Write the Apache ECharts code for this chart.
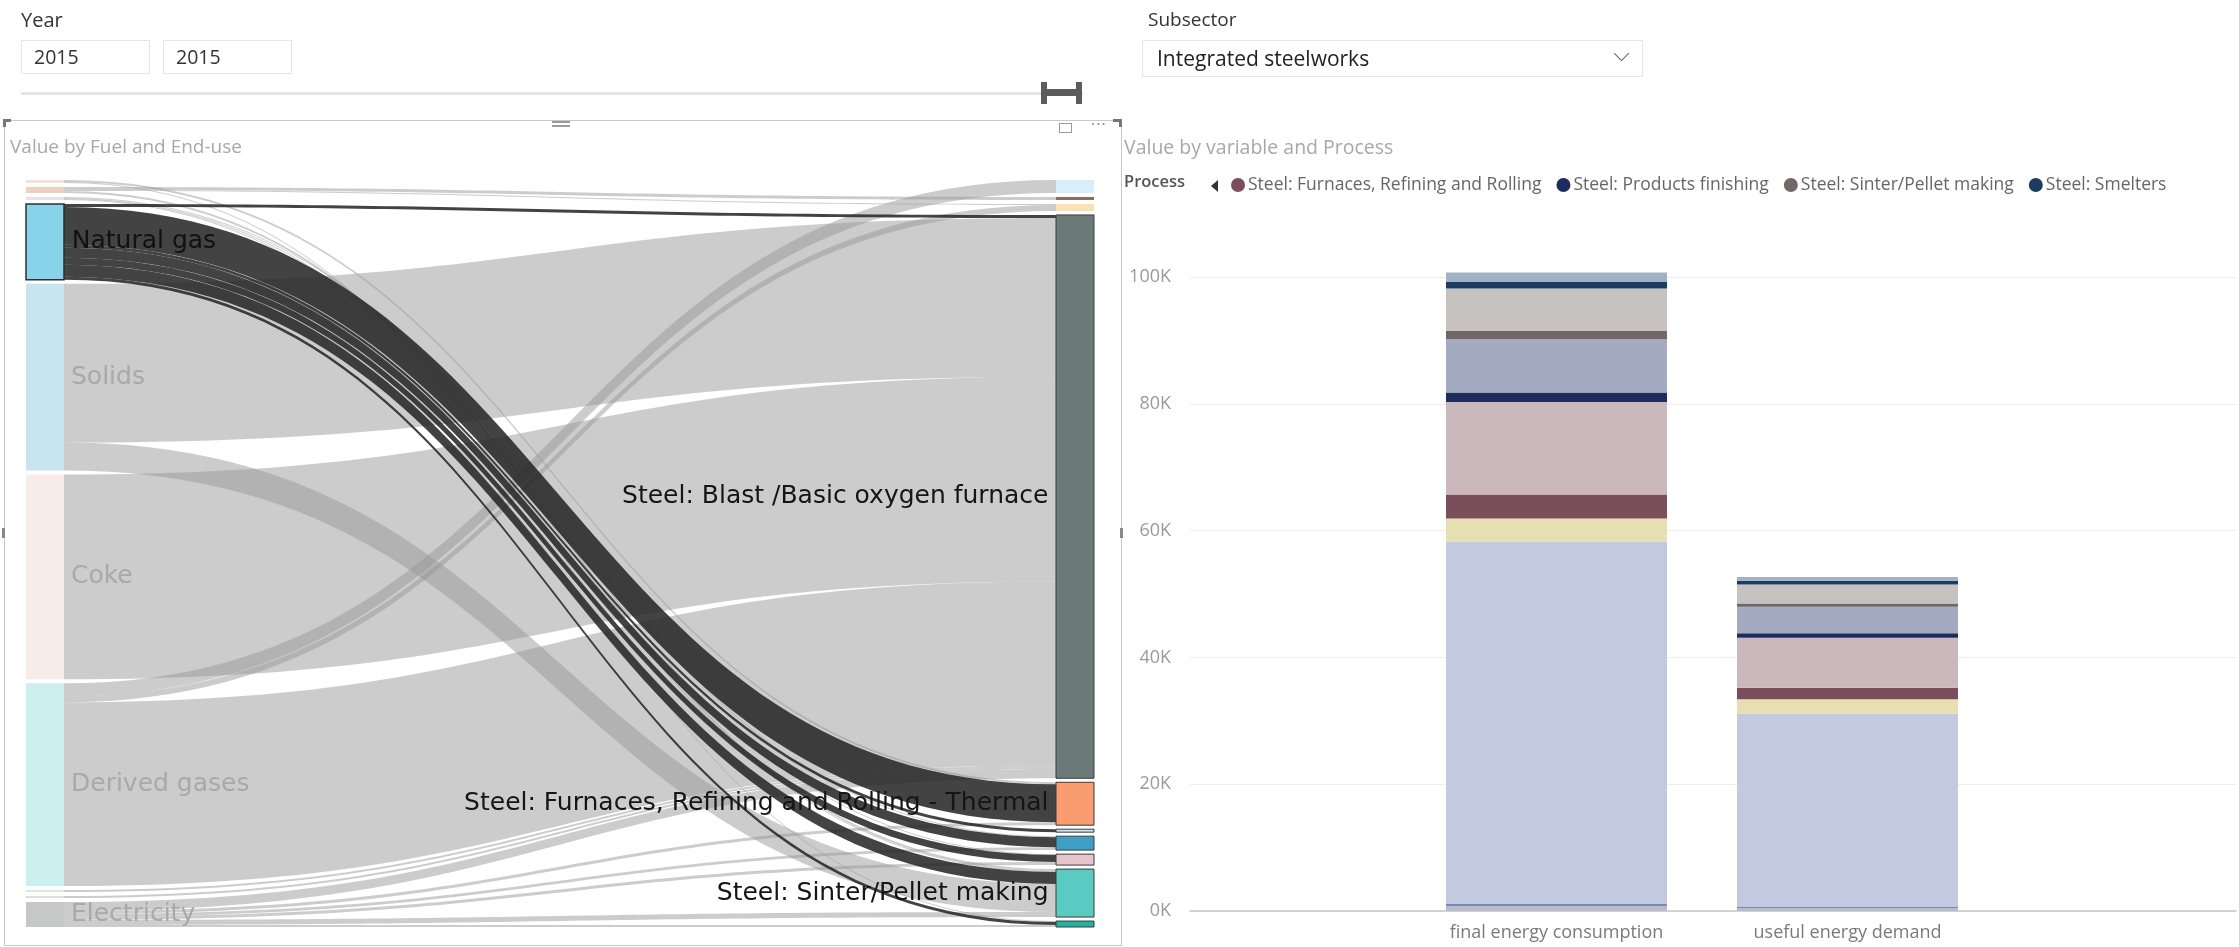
<!DOCTYPE html>
<html>
<head>
<meta charset="utf-8">
<script src="https://cdn.jsdelivr.net/npm/echarts@6/dist/echarts.min.js"></script>
<style>
  html, body { margin: 0; padding: 0; background: #fff; width: 2239px; height: 947px; overflow: hidden; font-family: "Open Sans", sans-serif; }
  #chart { position: absolute; left: 0; top: 0; width: 2239px; height: 947px; z-index: 1; }
  .ui { position: absolute; z-index: 2; }
  .lbl { color: #333; }
  .box { border: 1px solid #e6e6e6; box-sizing: border-box; color: #333; }
  .frame { border: 1px solid #c9c9c9; box-sizing: border-box; z-index: 0; }
</style>
</head>
<body>
<!-- year range slicer -->
<div class="ui lbl" style="left:21px;top:6px;font-size:20px;">Year</div>
<div class="ui box" style="left:21px;top:40px;width:129px;height:34px;line-height:32px;padding-left:12px;font-size:19.5px;">2015</div>
<div class="ui box" style="left:163px;top:40px;width:129px;height:34px;line-height:32px;padding-left:12px;font-size:19.5px;">2015</div>
<div class="ui" style="left:21px;top:92px;width:1062px;height:3px;background:#e4e4e4;"></div>
<div class="ui" style="left:1041px;top:82px;width:6px;height:22px;background:#5c5c5c;"></div>
<div class="ui" style="left:1076px;top:82px;width:6px;height:22px;background:#5c5c5c;"></div>
<div class="ui" style="left:1045px;top:89px;width:33px;height:7px;background:#5c5c5c;"></div>

<!-- subsector dropdown -->
<div class="ui lbl" style="left:1148px;top:6px;font-size:19px;">Subsector</div>
<div class="ui box" style="left:1142px;top:40px;width:501px;height:37px;line-height:35px;padding-left:14px;font-size:21px;color:#222;">Integrated steelworks</div>
<div class="ui" style="left:1616px;top:48px;width:10px;height:10px;border-right:1.5px solid #666;border-bottom:1.5px solid #666;transform:rotate(45deg);"></div>

<!-- focused visual frame -->
<div class="ui frame" style="left:4px;top:120px;width:1118px;height:826px;"></div>
<div class="ui" style="left:3px;top:119px;width:8px;height:3px;background:#777;"></div>
<div class="ui" style="left:3px;top:119px;width:3px;height:8px;background:#777;"></div>
<div class="ui" style="left:1113px;top:119px;width:9px;height:3px;background:#777;"></div>
<div class="ui" style="left:1119px;top:119px;width:3px;height:8px;background:#777;"></div>
<div class="ui" style="left:552px;top:121px;width:18px;height:2px;background:#9a9a9a;"></div>
<div class="ui" style="left:552px;top:125px;width:18px;height:2px;background:#9a9a9a;"></div>
<div class="ui" style="left:2px;top:528px;width:3px;height:10px;background:#888;"></div>
<div class="ui" style="left:1120px;top:528px;width:3px;height:10px;background:#888;"></div>
<div class="ui" style="left:1059px;top:123px;width:13px;height:10px;border:1px solid #999;box-sizing:border-box;"></div>
<div class="ui" style="left:1091px;top:113px;font-size:16px;color:#888;letter-spacing:1px;">&middot;&middot;&middot;</div>

<div id="chart"></div>
<script>
// ---------- Sankey: fuels -> end-uses ----------
const fuelNodes = ['Residual fuel oil', 'Diesel oil', 'LPG', 'Natural gas', 'Solids', 'Coke',
  'Derived gases', 'Biomass and waste', 'Steam distributed', 'Electricity'];
const useNodes = ['Steel: Products finishing - Thermal', 'Steel: Furnaces, Refining and Rolling - Steam',
  'Low enthalpy heat', 'Steel: Blast /Basic oxygen furnace',
  'Steel: Furnaces, Refining and Rolling - Thermal', 'Lighting',
  'Steel: Furnaces, Refining and Rolling - Electric', 'Steel: Products finishing - Electric',
  'Steel: Sinter/Pellet making', 'Steel: Smelters'];
const flows = [
  ['Residual fuel oil', 'Steel: Furnaces, Refining and Rolling - Thermal', 280],
  ['Residual fuel oil', 'Steel: Smelters', 140],
  ['Diesel oil', 'Steel: Furnaces, Refining and Rolling - Steam', 420],
  ['Diesel oil', 'Low enthalpy heat', 140],
  ['Diesel oil', 'Steel: Sinter/Pellet making', 280],
  ['LPG', 'Steel: Furnaces, Refining and Rolling - Electric', 140],
  ['LPG', 'Steel: Products finishing - Electric', 140],
  ['LPG', 'Steel: Sinter/Pellet making', 140],
  ['Solids', 'Steel: Blast /Basic oxygen furnace', 22420],
  ['Solids', 'Steel: Sinter/Pellet making', 3950],
  ['Coke', 'Steel: Blast /Basic oxygen furnace', 28910],
  ['Derived gases', 'Steel: Products finishing - Thermal', 1830],
  ['Derived gases', 'Low enthalpy heat', 850],
  ['Derived gases', 'Steel: Blast /Basic oxygen furnace', 25940],
  ['Biomass and waste', 'Steel: Blast /Basic oxygen furnace', 280],
  ['Steam distributed', 'Steel: Blast /Basic oxygen furnace', 280],
  ['Electricity', 'Steel: Blast /Basic oxygen furnace', 1270],
  ['Electricity', 'Steel: Furnaces, Refining and Rolling - Thermal', 420],
  ['Electricity', 'Steel: Furnaces, Refining and Rolling - Electric', 420],
  ['Electricity', 'Steel: Products finishing - Electric', 420],
  ['Electricity', 'Steel: Sinter/Pellet making', 710],
  ['Electricity', 'Steel: Smelters', 280],
  ['Natural gas', 'Steel: Blast /Basic oxygen furnace', 420],
  ['Natural gas', 'Steel: Furnaces, Refining and Rolling - Thermal', 5360],
  ['Natural gas', 'Lighting', 420],
  ['Natural gas', 'Steel: Furnaces, Refining and Rolling - Electric', 1410],
  ['Natural gas', 'Steel: Products finishing - Electric', 990],
  ['Natural gas', 'Steel: Sinter/Pellet making', 1690],
  ['Natural gas', 'Steel: Smelters', 420]
];
const selectedFuel = 'Natural gas';

// ---------- Stacked columns: energy by process ----------
const categories = ['final energy consumption', 'useful energy demand'];
const processes = ['Low enthalpy heat', 'Steel: Blast /Basic oxygen furnace', 'Steel: Electric arc',
  'Steel: Furnaces, Refining and Rolling', 'Steel: Products finishing',
  'Steel: Sinter/Pellet making', 'Steel: Smelters'];
// natural-gas share of each process, per category
const gasValues = [
  [0, 0], [350, 250], [0, 0], [3800, 1800], [1500, 700], [1300, 500], [1000, 600]
];
// remaining fuels of each process, per category
const otherValues = [
  [750, 450], [57200, 30400], [3600, 2300], [14600, 7900], [8400, 4200], [6700, 3000], [1500, 600]
];
const legendNames = ['Steel: Furnaces, Refining and Rolling', 'Steel: Products finishing',
  'Steel: Sinter/Pellet making', 'Steel: Smelters'];
const yTicks = [0, 20000, 40000, 60000, 80000, 100000];

// ---------- styles ----------
const nodeColors = {
  'Residual fuel oil': '#f3e4da', 'Diesel oil': '#ebd1bf', 'LPG': '#e4e4e4',
  'Natural gas': '#86d3ea', 'Solids': '#c8e4ee', 'Coke': '#f8ecea', 'Derived gases': '#cbeeee',
  'Biomass and waste': '#d9e8d9', 'Steam distributed': '#e0dcea', 'Electricity': '#c6c8c7',
  'Steel: Products finishing - Thermal': '#d8eef8',
  'Steel: Furnaces, Refining and Rolling - Steam': '#8b6d62',
  'Low enthalpy heat': '#fbe2b4', 'Steel: Blast /Basic oxygen furnace': '#6b7a79',
  'Steel: Furnaces, Refining and Rolling - Thermal': '#f99c6f', 'Lighting': '#cbe5ef',
  'Steel: Furnaces, Refining and Rolling - Electric': '#3f9ec4',
  'Steel: Products finishing - Electric': '#e6c6cb',
  'Steel: Sinter/Pellet making': '#5acbc2', 'Steel: Smelters': '#20b3a0'
};
const labelledFuels = ['Natural gas', 'Solids', 'Coke', 'Derived gases', 'Electricity'];
const labelledUses = ['Steel: Blast /Basic oxygen furnace', 'Steel: Furnaces, Refining and Rolling - Thermal',
  'Steel: Sinter/Pellet making'];
const gasColors = ['#b9bbc7', '#7c88b8', '#e6dfb4', '#7a4e5a', '#1e2b5f', '#716768', '#1c3d60'];
const otherColors = ['#b9bbc7', '#c3cadf', '#e6dfb4', '#cbb8bc', '#a4abc0', '#c6c2bf', '#a0b3c5'];

const sankeyFont = 'DejaVu Sans';
const uiFont = 'Open Sans';

const gasTargets = flows.filter(f => f[0] === selectedFuel).map(f => f[1]);

const sankeyNodes = fuelNodes.map(name => ({
  name,
  itemStyle: {
    color: nodeColors[name],
    borderColor: name === selectedFuel ? '#2f2f2f' : 'transparent',
    borderWidth: name === selectedFuel ? 1.5 : 0
  },
  label: {
    show: labelledFuels.includes(name),
    position: 'right',
    distance: 7,
    color: name === selectedFuel ? '#111' : '#a9a9a9'
  }
})).concat(useNodes.map(name => ({
  name,
  itemStyle: {
    color: nodeColors[name],
    borderColor: gasTargets.includes(name) ? '#3c3c3c' : 'transparent',
    borderWidth: gasTargets.includes(name) ? 1 : 0
  },
  label: {
    show: labelledUses.includes(name),
    position: 'left',
    distance: 7,
    color: '#151515'
  }
})));

const sankeyLinks = flows.map(([source, target, value]) => {
  const link = { source, target, value };
  if (source === selectedFuel) link.lineStyle = { color: '#242424', opacity: 0.86 };
  return link;
});

const barSeries = [];
processes.forEach((p, i) => {
  barSeries.push({
    name: p, type: 'bar', stack: 'total', xAxisIndex: 1, yAxisIndex: 1,
    barWidth: 221, clip: false, itemStyle: { color: gasColors[i] },
    data: gasValues[i]
  });
  barSeries.push({
    name: p + ' (other fuels)', type: 'bar', stack: 'total', xAxisIndex: 1, yAxisIndex: 1,
    barWidth: 221, clip: false, itemStyle: { color: otherColors[i] },
    data: otherValues[i]
  });
});

const chart = echarts.init(document.getElementById('chart'), null, { renderer: 'canvas' });
chart.setOption({
  animation: false,
  backgroundColor: 'transparent',
  textStyle: { fontFamily: uiFont },
  title: [
    { text: 'Value by Fuel and End-use', left: 10, top: 138, padding: 0,
      textStyle: { fontFamily: uiFont, fontSize: 19, fontWeight: 'normal', color: '#a8a8a8' } },
    { text: 'Value by variable and Process', left: 1124, top: 138, padding: 0,
      textStyle: { fontFamily: uiFont, fontSize: 19.5, fontWeight: 'normal', color: '#a8a8a8' } }
  ],
  legend: {
    data: legendNames, left: 1231, top: 176, padding: 0,
    icon: 'circle', itemWidth: 14, itemHeight: 14, itemGap: 15,
    selectedMode: false,
    textStyle: { fontFamily: uiFont, fontSize: 17.5, color: '#666', padding: [0, 0, 0, -2] }
  },
  graphic: [
    { type: 'text', left: 1124, top: 174,
      style: { text: 'Process', fontFamily: uiFont, fontSize: 16.5, fontWeight: 600, fill: '#555' } },
    { type: 'polygon', shape: { points: [[1218, 180], [1218, 192], [1211, 186]] }, style: { fill: '#333' } }
  ],
  grid: [
    { left: 1190, top: 277, width: 1046, height: 634 },
    { left: 1411, top: 277, width: 582, height: 634 }
  ],
  xAxis: [
    { gridIndex: 0, type: 'value', min: 0, max: 1,
      axisLine: { show: true, lineStyle: { color: '#c6c6c6', width: 1.5 } },
      axisTick: { show: false }, axisLabel: { show: false }, splitLine: { show: false } },
    { gridIndex: 1, type: 'category', data: categories,
      axisLine: { show: false }, axisTick: { show: false },
      axisLabel: { color: '#7a7a7a', fontSize: 18, fontFamily: uiFont, margin: 13 } }
  ],
  yAxis: [
    { gridIndex: 0, type: 'value', min: yTicks[0], max: yTicks[yTicks.length - 1], interval: yTicks[1] - yTicks[0],
      axisLine: { show: false }, axisTick: { show: false },
      axisLabel: { formatter: v => (v / 1000) + 'K', color: '#9a9a9a', fontSize: 18, fontFamily: uiFont, margin: 19 },
      splitLine: { lineStyle: { color: '#ededed', width: 1 } } },
    { gridIndex: 1, type: 'value', min: yTicks[0], max: yTicks[yTicks.length - 1], show: false }
  ],
  series: [
    {
      type: 'sankey',
      left: 26, top: 180, width: 1068, height: 747,
      nodeWidth: 38, nodeGap: 4,
      layoutIterations: 0,
      draggable: false,
      emphasis: { disabled: true },
      data: sankeyNodes,
      links: sankeyLinks,
      lineStyle: { color: '#9a9a9a', opacity: 0.5, curveness: 0.5 },
      label: { fontFamily: sankeyFont, fontSize: 25 }
    }
  ].concat(barSeries)
});
</script>
</body>
</html>
